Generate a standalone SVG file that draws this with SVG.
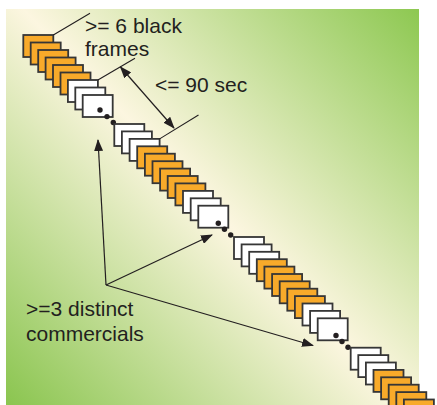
<svg xmlns="http://www.w3.org/2000/svg" width="437" height="405" viewBox="0 0 437 405">
  <defs>
    <linearGradient id="bg" gradientUnits="userSpaceOnUse" x1="419" y1="9" x2="6" y2="405">
      <stop offset="0" stop-color="#8dc851"/>
      <stop offset="0.5" stop-color="#fcf6e0"/>
      <stop offset="1" stop-color="#8ac54f"/>
    </linearGradient>
    <marker id="head" markerUnits="userSpaceOnUse" markerWidth="12" markerHeight="9" refX="11" refY="4.5" orient="auto-start-reverse" viewBox="0 0 12 9">
      <path d="M0,0 L12,4.5 L0,9 z" fill="#231f20"/>
    </marker>
    <rect id="fr" width="30" height="22"/>
  </defs>
  <style>
    .blk { fill: #f8aa2a; stroke: #363636; stroke-width: 1.8; }
    .com { fill: #ffffff; stroke: #363636; stroke-width: 1.8; }
    .dot { fill: #231f20; }
    .lbl { font-family: "Liberation Sans", Arial, sans-serif; font-size: 21px; fill: #231f20; }
    .tick { stroke: #231f20; stroke-width: 1.1; fill: none; }
    .arr { stroke: #231f20; stroke-width: 1.2; fill: none; marker-end: url(#head); }
  </style>

  <!-- background panel -->
  <rect x="6" y="9" width="413" height="396" fill="url(#bg)"/>

  <!-- first break: black frames then commercial tail -->
  <g id="segment-1">
    <use href="#fr" class="blk" x="23.3" y="35"/>
    <use href="#fr" class="blk" x="30.7" y="42.5"/>
    <use href="#fr" class="blk" x="38.2" y="50"/>
    <use href="#fr" class="blk" x="45.6" y="57.5"/>
    <use href="#fr" class="blk" x="53" y="65"/>
    <use href="#fr" class="blk" x="60.5" y="72.5"/>
    <use href="#fr" class="com" x="67.9" y="80"/>
    <use href="#fr" class="com" x="75.3" y="87.5"/>
    <use href="#fr" class="com" x="82.7" y="95"/>
    <circle class="dot" cx="100" cy="110" r="2.7"/>
    <circle class="dot" cx="107" cy="116.6" r="2.7"/>
    <circle class="dot" cx="113.3" cy="122.5" r="2.7"/>
  </g>

  <g id="segment-2">
    <use href="#fr" class="com" x="114.3" y="124"/>
    <use href="#fr" class="com" x="121.9" y="131.4"/>
    <use href="#fr" class="com" x="129.6" y="138.9"/>
    <use href="#fr" class="blk" x="137.2" y="146.3"/>
    <use href="#fr" class="blk" x="144.9" y="153.7"/>
    <use href="#fr" class="blk" x="152.5" y="161.2"/>
    <use href="#fr" class="blk" x="160.1" y="168.6"/>
    <use href="#fr" class="blk" x="167.7" y="176"/>
    <use href="#fr" class="blk" x="175.4" y="183.4"/>
    <use href="#fr" class="com" x="183" y="190.9"/>
    <use href="#fr" class="com" x="190.7" y="198.3"/>
    <use href="#fr" class="com" x="198.3" y="205.7"/>
    <circle class="dot" cx="218.3" cy="223.3" r="2.7"/>
    <circle class="dot" cx="224.5" cy="229.3" r="2.7"/>
    <circle class="dot" cx="230.7" cy="235" r="2.7"/>
  </g>

  <g id="segment-3">
    <use href="#fr" class="com" x="234" y="237"/>
    <use href="#fr" class="com" x="241.6" y="244.4"/>
    <use href="#fr" class="com" x="249.2" y="251.8"/>
    <use href="#fr" class="blk" x="256.8" y="259.2"/>
    <use href="#fr" class="blk" x="264.4" y="266.6"/>
    <use href="#fr" class="blk" x="272.1" y="274"/>
    <use href="#fr" class="blk" x="279.7" y="281.3"/>
    <use href="#fr" class="blk" x="287.3" y="288.7"/>
    <use href="#fr" class="blk" x="294.9" y="296.1"/>
    <use href="#fr" class="com" x="302.5" y="303.5"/>
    <use href="#fr" class="com" x="310.1" y="310.9"/>
    <use href="#fr" class="com" x="317.7" y="318.3"/>
    <circle class="dot" cx="336" cy="335.5" r="2.7"/>
    <circle class="dot" cx="342" cy="341.5" r="2.7"/>
    <circle class="dot" cx="348" cy="347.3" r="2.7"/>
  </g>

  <g id="segment-4">
    <use href="#fr" class="com" x="350.7" y="347.7"/>
    <use href="#fr" class="com" x="358.3" y="355.1"/>
    <use href="#fr" class="com" x="365.9" y="362.5"/>
    <use href="#fr" class="blk" x="373.5" y="369.9"/>
    <use href="#fr" class="blk" x="381.1" y="377.3"/>
    <use href="#fr" class="blk" x="388.7" y="384.7"/>
    <use href="#fr" class="blk" x="396.3" y="392.1"/>
    <use href="#fr" class="blk" x="403.9" y="399.5"/>
  </g>

  <!-- leaders, span arrow and pointers -->
  <g id="connectors">
    <line class="tick" x1="53.3" y1="35" x2="90" y2="13.3"/>
    <line class="tick" x1="97.9" y1="80" x2="135" y2="58.3"/>
    <line class="tick" x1="159.6" y1="138.9" x2="198.5" y2="115"/>
    <line class="arr" x1="120.5" y1="67" x2="174" y2="128" marker-start="url(#head)"/>
    <line class="arr" x1="106" y1="285" x2="98" y2="140"/>
    <line class="arr" x1="106" y1="285" x2="212" y2="235"/>
    <line class="arr" x1="106" y1="285" x2="313" y2="345.5"/>
  </g>

  <g id="labels">
    <text class="lbl" x="85" y="32.8">&gt;= 6 black<tspan x="85" dy="23.5">frames</tspan></text>
    <text class="lbl" x="155" y="91.5">&lt;= 90 sec</text>
    <text class="lbl" x="26" y="315.7">&gt;=3 distinct<tspan x="26" dy="25">commercials</tspan></text>
  </g>
</svg>
